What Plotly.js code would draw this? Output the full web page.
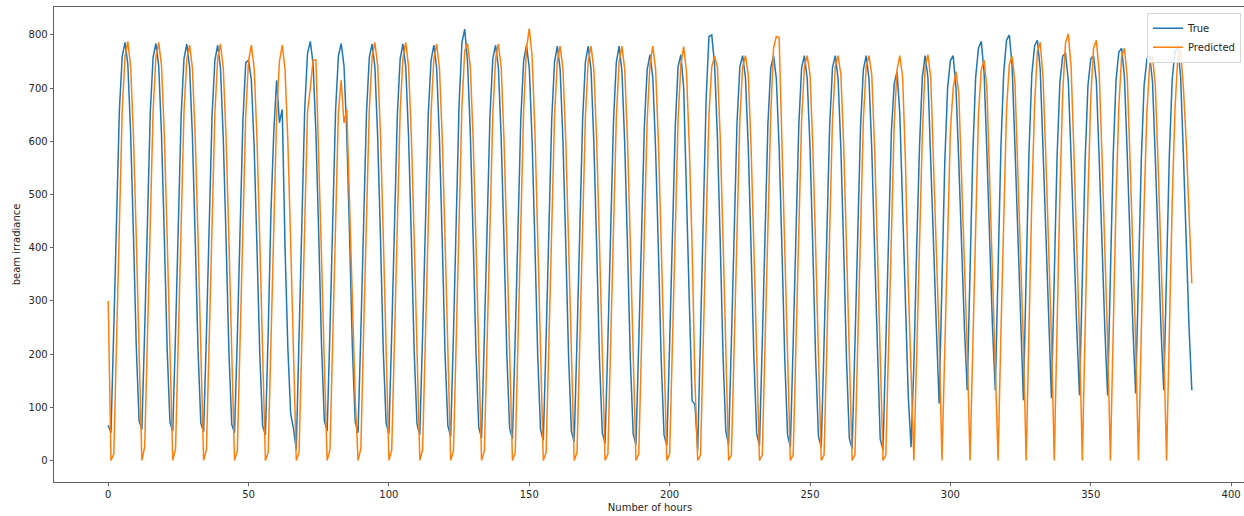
<!DOCTYPE html>
<html>
<head>
<meta charset="utf-8">
<script src="https://cdn.plot.ly/plotly-3.0.1.min.js"></script>
<style>
html,body{margin:0;padding:0;background:#fff;overflow:hidden;}
#chart{width:1250px;height:516px;}
</style>
</head>
<body>
<div id="chart"></div>
<script>
// Series names
const seriesNames = ["True", "Predicted"];

// True beam irradiance, one hourly value per point
const trueIrradiance = [
  66, 52, 250, 480, 660, 760, 786, 745, 615, 425, 215,
  75, 58, 245, 475, 655, 758, 784, 742, 612, 420, 210,
  72, 55, 240, 470, 650, 755, 783, 740, 610, 418, 208,
  70, 54, 238, 468, 648, 752, 781, 738, 605, 415, 205,
  68, 52, 230, 455, 640, 748, 753, 715, 590, 400, 200,
  65, 48, 240, 470, 620, 715, 635, 660, 400, 212, 88,
  60, 20, 240, 480, 660, 765, 788, 745, 615, 425, 215,
  75, 55, 245, 478, 658, 760, 784, 742, 612, 420, 210,
  72, 52, 240, 472, 652, 757, 783, 740, 608, 418, 205,
  70, 50, 238, 470, 650, 755, 783, 740, 608, 415, 205,
  68, 48, 235, 465, 648, 752, 781, 738, 605, 412, 200,
  65, 45, 240, 480, 670, 785, 811, 750, 615, 420, 205,
  62, 42, 235, 465, 648, 755, 781, 738, 605, 410, 200,
  60, 40, 232, 462, 645, 752, 781, 738, 602, 408, 198,
  58, 38, 230, 460, 642, 750, 779, 735, 600, 405, 195,
  55, 35, 228, 458, 640, 750, 779, 735, 598, 402, 192,
  52, 32, 225, 455, 638, 748, 779, 732, 595, 400, 190,
  50, 30, 222, 450, 630, 735, 763, 720, 585, 395, 188,
  48, 28, 220, 448, 628, 740, 763, 700, 520, 300, 112,
  105, 20, 240, 480, 680, 797, 800, 745, 610, 415, 200,
  55, 30, 225, 455, 635, 740, 761, 720, 590, 400, 195,
  50, 28, 222, 450, 632, 738, 761, 718, 588, 398, 192,
  48, 25, 220, 448, 630, 738, 761, 718, 588, 398, 192,
  45, 25, 220, 448, 630, 738, 761, 718, 585, 395, 190,
  42, 22, 218, 445, 628, 735, 761, 718, 585, 395, 190,
  40, 20, 215, 440, 620, 709, 731, 650, 480, 300, 120,
  25, 180, 400, 590, 720, 761, 720, 560, 370, 250,
  107, 340, 560, 700, 752, 761, 700, 560, 400, 250,
  132, 360, 580, 720, 775, 788, 730, 580, 410, 250,
  132, 370, 590, 730, 790, 800, 740, 590, 420, 260,
  113, 350, 580, 725, 780, 790, 735, 585, 415, 255,
  117, 345, 570, 710, 760, 766, 715, 570, 405, 250,
  122, 345, 565, 705, 755, 761, 712, 568, 402, 250,
  122, 350, 575, 715, 768, 775, 722, 575, 408, 252,
  126, 345, 565, 705, 755, 761, 712, 568, 400, 250,
  132, 355, 575, 715, 770, 776, 722, 575, 405, 252,
  132
];

// Predicted beam irradiance
const predictedIrradiance = [
  300, 0, 12, 240, 480, 660, 760, 788, 740, 610, 420,
  200, 0, 25, 245, 478, 658, 758, 786, 742, 612, 420,
  195, 0, 22, 240, 472, 655, 755, 781, 738, 608, 418,
  192, 0, 20, 238, 470, 652, 756, 783, 738, 605, 415,
  190, 0, 18, 235, 465, 650, 752, 781, 738, 605, 412,
  188, 0, 15, 230, 460, 648, 750, 781, 735, 600, 410,
  185, 0, 15, 235, 470, 655, 700, 753, 753, 580, 380,
  180, 0, 20, 240, 475, 655, 715, 635, 660, 463, 292,
  118, 0, 22, 245, 478, 658, 758, 786, 742, 612, 420,
  200, 0, 20, 242, 475, 655, 757, 786, 740, 608, 418,
  198, 0, 20, 240, 472, 652, 755, 783, 738, 605, 415,
  195, 0, 18, 238, 470, 665, 770, 784, 740, 605, 412,
  195, 0, 18, 238, 468, 650, 755, 783, 738, 602, 410,
  192, 0, 15, 240, 475, 660, 775, 812, 760, 620, 420,
  192, 0, 15, 235, 465, 648, 752, 779, 735, 600, 408,
  190, 0, 15, 235, 465, 648, 752, 779, 735, 600, 408,
  190, 0, 12, 232, 462, 645, 750, 779, 735, 598, 405,
  188, 0, 12, 230, 460, 640, 745, 779, 735, 598, 405,
  188, 0, 12, 230, 458, 640, 745, 778, 730, 590, 400,
  150, 0, 10, 230, 460, 650, 740, 760, 740, 610, 420,
  200, 0, 10, 228, 458, 640, 740, 761, 725, 590, 400,
  195, 0, 10, 230, 462, 650, 775, 797, 795, 600, 400,
  190, 0, 10, 228, 458, 640, 740, 761, 725, 590, 400,
  190, 0, 10, 228, 458, 640, 740, 761, 725, 590, 400,
  190, 0, 10, 228, 458, 640, 740, 761, 725, 588, 398,
  188, 0, 10, 225, 455, 635, 735, 761, 720, 560, 330,
  150, 0, 200, 430, 610, 740, 763, 720, 570, 400,
  230, 0, 220, 450, 620, 700, 731, 690, 540, 380,
  210, 0, 230, 470, 650, 735, 753, 700, 520, 358,
  200, 0, 240, 480, 660, 745, 760, 710, 560, 390,
  220, 0, 250, 490, 670, 770, 786, 720, 570, 400,
  230, 0, 260, 500, 690, 785, 802, 740, 580, 410,
  230, 0, 250, 495, 680, 775, 790, 730, 575, 405,
  225, 0, 245, 485, 665, 760, 775, 720, 565, 398,
  220, 0, 240, 480, 655, 745, 760, 705, 555, 390,
  220, 0, 245, 482, 660, 758, 773, 700, 600, 470,
  333
];

// Tick values
const xTicks = [0, 50, 100, 150, 200, 250, 300, 350, 400];
const yTicks = [0, 100, 200, 300, 400, 500, 600, 700, 800];

const font = {family: "DejaVu Sans, sans-serif", size: 10, color: "#262626"};

const traces = [
  {
    y: trueIrradiance, type: "scatter", mode: "lines", name: seriesNames[0],
    line: {color: "#1f77b4", width: 1.5}
  },
  {
    y: predictedIrradiance, type: "scatter", mode: "lines", name: seriesNames[1],
    line: {color: "#ff7f0e", width: 1.5}
  }
];

const axisCommon = {
  showgrid: false, zeroline: false, showline: true, mirror: true,
  linecolor: "#3a3a3a", linewidth: 0.8, ticks: "outside", ticklen: 3.5,
  tickwidth: 0.8, tickcolor: "#3a3a3a", tickfont: font
};

const layout = {
  width: 1250, height: 516,
  margin: {l: 54, r: 4, t: 7, b: 34},
  paper_bgcolor: "#ffffff", plot_bgcolor: "#ffffff",
  font: font,
  showlegend: true,
  legend: {
    x: 0.9958, y: 0.988, xanchor: "right", yanchor: "top",
    bgcolor: "rgba(255,255,255,0.85)", bordercolor: "#d6d6d6", borderwidth: 1,
    font: {family: font.family, size: 10, color: "#262626"},
    tracegroupgap: 0
  },
  xaxis: Object.assign({}, axisCommon, {
    range: [-19.3, 405.3], tickvals: xTicks, ticktext: xTicks.map(String),
    title: {text: "Number of hours", font: font, standoff: 4}
  }),
  yaxis: Object.assign({}, axisCommon, {
    range: [-40.6, 852.6], tickvals: yTicks, ticktext: yTicks.map(String),
    title: {text: "beam irradiance", font: font, standoff: 6}
  })
};

Plotly.newPlot("chart", traces, layout, {staticPlot: true, displayModeBar: false});
</script>
</body>
</html>
